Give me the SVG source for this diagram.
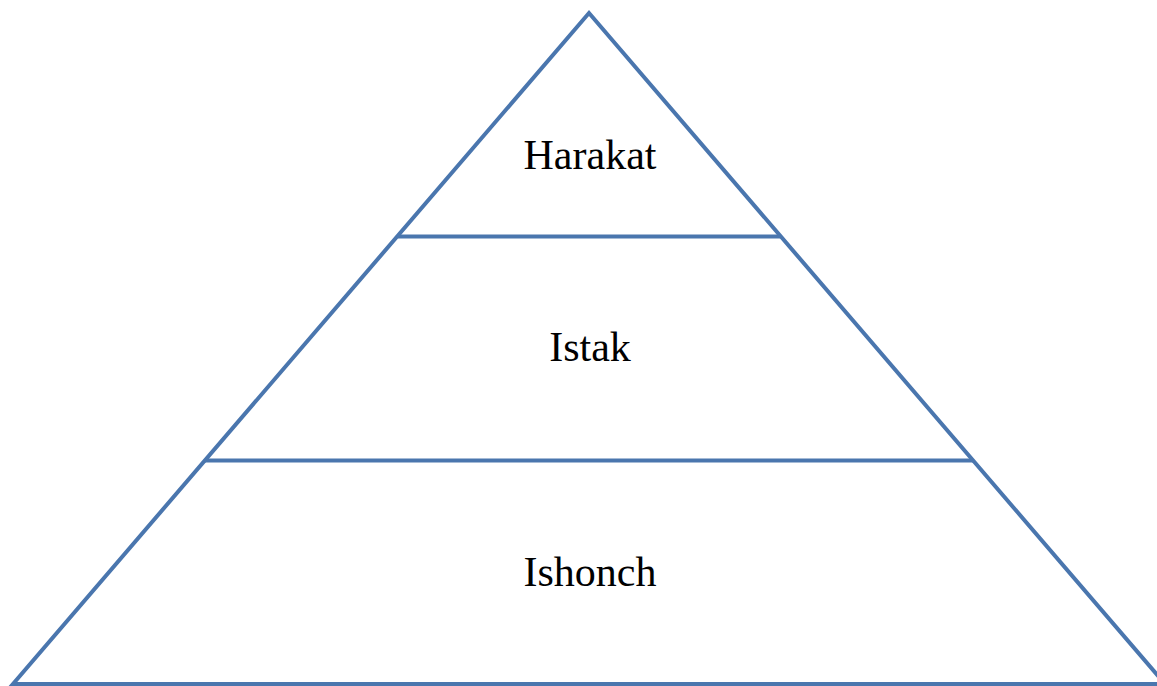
<svg xmlns="http://www.w3.org/2000/svg" width="1157" height="686" viewBox="0 0 1157 686">
<style>
.edge{fill:none;stroke:#4A76AE;stroke-width:4;stroke-linejoin:miter}
.lbl{font-family:"Liberation Serif","Times New Roman",serif;font-size:42px;fill:#000;text-anchor:middle}
</style>
<rect width="1157" height="686" fill="#fff"/>
<g id="pyramid">
<polygon class="edge" points="589,13 1165,684 13,684"/>
</g>
<g id="connectors">
<line class="edge" x1="398" y1="236.5" x2="780" y2="236.5"/>
<line class="edge" x1="205" y1="460.5" x2="973" y2="460.5"/>
</g>
<g id="node-harakat"><text class="lbl" x="590" y="169">Harakat</text></g>
<g id="node-istak"><text class="lbl" x="590" y="361">Istak</text></g>
<g id="node-ishonch"><text class="lbl" x="590" y="586">Ishonch</text></g>
</svg>
